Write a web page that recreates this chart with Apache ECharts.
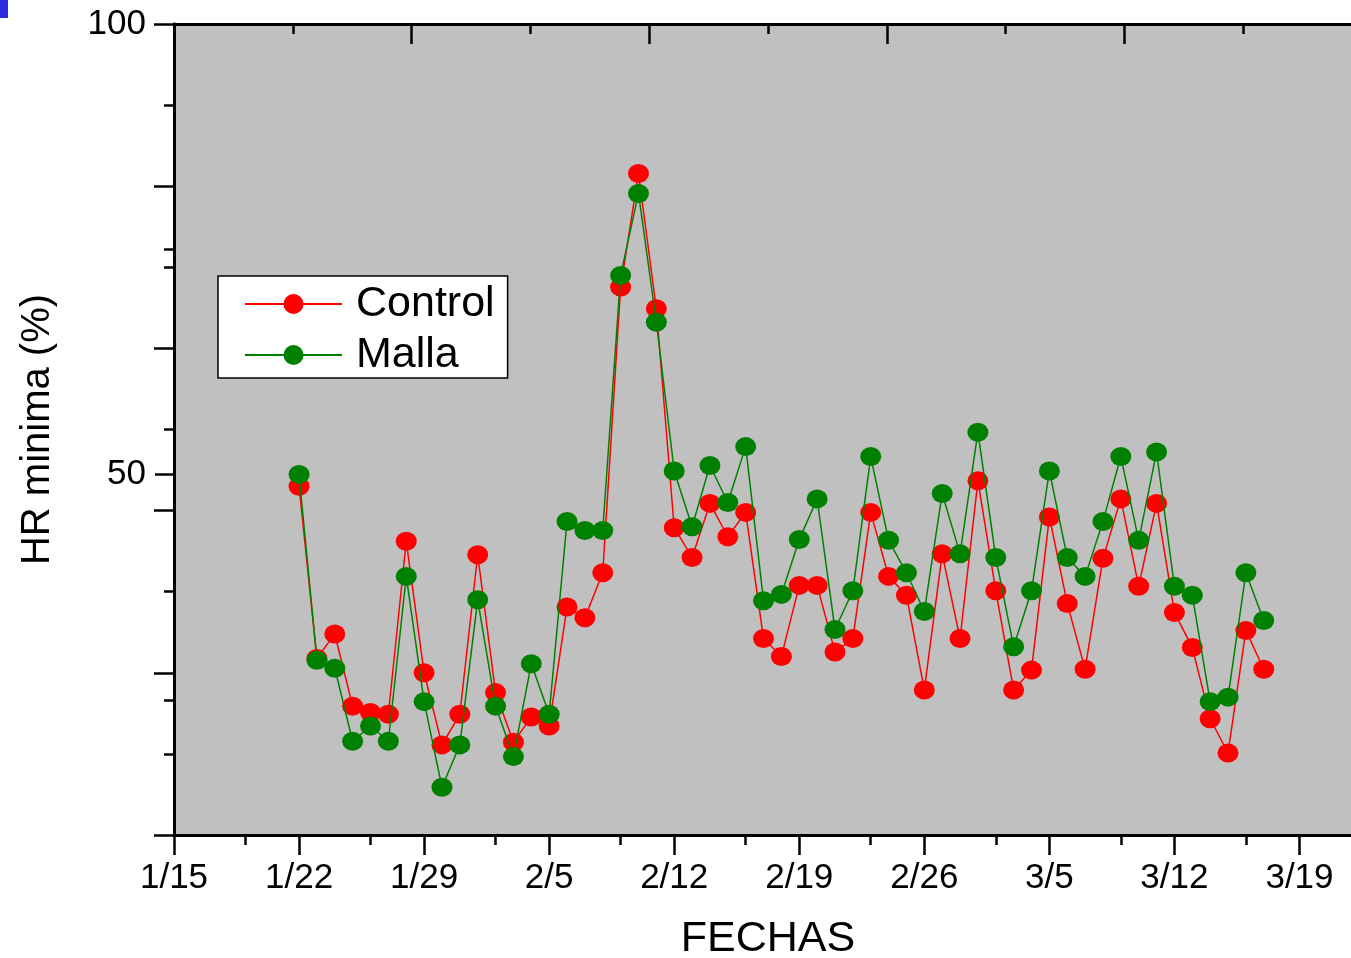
<!DOCTYPE html>
<html>
<head>
<meta charset="utf-8">
<script src="https://cdn.jsdelivr.net/npm/echarts@6/dist/echarts.min.js"></script>
<style>
  html, body { margin: 0; padding: 0; background: #ffffff; }
  #chart { width: 1351px; height: 958px; }
</style>
</head>
<body>
<div id="chart"></div>
<script>
// ---- data ----
const dates = [
  '1/22','1/23','1/24','1/25','1/26','1/27','1/28','1/29','1/30','1/31',
  '2/1','2/2','2/3','2/4','2/5','2/6','2/7','2/8','2/9','2/10','2/11','2/12','2/13','2/14',
  '2/15','2/16','2/17','2/18','2/19','2/20','2/21','2/22','2/23','2/24','2/25','2/26','2/27','2/28',
  '3/1','3/2','3/3','3/4','3/5','3/6','3/7','3/8','3/9','3/10','3/11','3/12','3/13','3/14','3/15','3/16','3/17'
];
const control = [
  48.7, 29.6, 32.3, 24.3, 23.6, 23.4, 42.6, 28.0, 20.0, 23.4,
  41.1, 25.8, 20.3, 23.1, 22.1, 35.3, 34.1, 39.1, 70.8, 83.4, 68.4, 44.1, 40.8, 46.8,
  43.1, 45.8, 31.8, 29.8, 37.7, 37.7, 30.3, 31.8, 45.8, 38.7, 36.6, 26.1, 41.2, 31.8,
  49.3, 37.1, 26.1, 28.3, 45.3, 35.7, 28.4, 40.7, 47.3, 37.6, 46.8, 34.7, 30.8, 22.9, 19.1, 32.7, 28.4
];
const malla = [
  50.0, 29.4, 28.5, 20.4, 22.1, 20.4, 38.7, 24.8, 15.3, 20.0,
  36.1, 24.3, 18.7, 29.0, 23.4, 44.8, 43.8, 43.8, 72.1, 81.2, 66.9, 50.4, 44.2, 51.0,
  46.9, 53.1, 36.0, 36.7, 42.8, 47.3, 32.8, 37.1, 52.0, 42.7, 39.1, 34.8, 47.9, 41.2,
  54.7, 40.8, 30.9, 37.1, 50.4, 40.8, 38.7, 44.8, 52.0, 42.7, 52.5, 37.6, 36.6, 24.8, 25.3, 39.1, 33.8
];
const xTickLabels = ['1/15','1/22','1/29','2/5','2/12','2/19','2/26','3/5','3/12','3/19'];
const yTickLabels = [100, 50];
const yMinorTicks = [25, 75];
const seriesNames = ['Control', 'Malla'];

// ---- helpers ----
const monthStart = {1: 0, 2: 31, 3: 59};
const origin = '1/15';
function dayOf(s) {
  const [m, d] = s.split('/').map(Number);
  const [m0, d0] = origin.split('/').map(Number);
  return (monthStart[m] + d) - (monthStart[m0] + d0);
}
const xMajor = xTickLabels.map(dayOf);
const xMinor = xMajor.map(v => v + 4).filter(v => v < 66.5);
const labelByDay = {};
xTickLabels.forEach(l => { labelByDay[dayOf(l)] = l; });

const FONT = 'Arial, "Liberation Sans", Helvetica, sans-serif';
const black = '#000000';

const chart = echarts.init(document.getElementById('chart'), null, {renderer: 'canvas'});
chart.setOption({
  animation: false,
  backgroundColor: '#ffffff',
  graphic: [{
    type: 'rect', left: 0, top: 0, shape: {width: 8, height: 18},
    style: {fill: '#2a2adf'}
  }],
  grid: {
    left: 174, top: 24, right: -11, bottom: 123,
    containLabel: false, outerBoundsMode: 'none',
    show: true, backgroundColor: '#c0c0c0', borderWidth: 0
  },
  legend: {
    left: 218, top: 276,
    orient: 'vertical',
    backgroundColor: '#ffffff',
    borderColor: black, borderWidth: 1.5,
    padding: [5, 13, 0, 26],
    itemWidth: 97, itemHeight: 25, itemGap: 5,
    textStyle: {fontFamily: FONT, fontSize: 43, color: black, lineHeight: 46, padding: [0, 0, 0, 9]},
    data: seriesNames
  },
  xAxis: [
    {
      type: 'value', position: 'bottom', min: 0, max: 66.5,
      axisLine: {show: true, lineStyle: {color: black, width: 3}},
      axisTick: {show: true, inside: false, length: 20, customValues: xMajor, lineStyle: {color: black, width: 2.5}},
      axisLabel: {
        show: true, customValues: xMajor, margin: 26,
        fontFamily: FONT, fontSize: 35, color: black,
        formatter: v => labelByDay[Math.round(v)] || ''
      },
      splitLine: {show: false},
      name: 'FECHAS', nameLocation: 'middle', nameGap: 83,
      nameTextStyle: {fontFamily: FONT, fontSize: 43, color: black}
    },
    {
      type: 'value', position: 'bottom', min: 0, max: 66.5,
      axisLine: {show: false},
      axisTick: {show: true, inside: false, length: 10, customValues: xMinor, lineStyle: {color: black, width: 2.5}},
      axisLabel: {show: false},
      splitLine: {show: false}
    },
    {
      type: 'value', position: 'top', min: 0, max: 5, interval: 1,
      axisLine: {show: true, lineStyle: {color: black, width: 3}},
      axisTick: {show: true, inside: true, length: 20, lineStyle: {color: black, width: 2.5}},
      minorTick: {show: true, splitNumber: 2, length: 10, lineStyle: {color: black, width: 2.5}},
      axisLabel: {show: false},
      splitLine: {show: false}
    }
  ],
  yAxis: [
    {
      type: 'value', position: 'left', min: 10, max: 100,
      axisLine: {show: true, lineStyle: {color: black, width: 3}},
      axisTick: {show: true, inside: false, length: 19, customValues: yTickLabels, lineStyle: {color: black, width: 2.5}},
      axisLabel: {show: true, customValues: yTickLabels, margin: 28, fontFamily: FONT, fontSize: 35, color: black},
      splitLine: {show: false},
      name: 'HR minima (%)', nameLocation: 'middle', nameRotate: 90, nameGap: 116,
      nameTextStyle: {fontFamily: FONT, fontSize: 40, color: black}
    },
    {
      type: 'value', position: 'left', min: 10, max: 100,
      axisLine: {show: false},
      axisTick: {show: true, inside: false, length: 10, customValues: yMinorTicks, lineStyle: {color: black, width: 2.5}},
      axisLabel: {show: false},
      splitLine: {show: false}
    },
    {
      type: 'value', position: 'right', min: 0, max: 5, interval: 1,
      axisLine: {show: true, lineStyle: {color: black, width: 3}},
      axisTick: {show: true, inside: true, length: 20, lineStyle: {color: black, width: 2.5}},
      minorTick: {show: true, splitNumber: 2, length: 10, lineStyle: {color: black, width: 2.5}},
      axisLabel: {show: false},
      splitLine: {show: false}
    }
  ],
  series: [
    {
      name: seriesNames[0], type: 'line', xAxisIndex: 0, yAxisIndex: 0,
      data: dates.map((d, i) => [dayOf(d), control[i]]),
      symbol: 'circle', symbolSize: [21, 19],
      itemStyle: {color: '#ff0000'},
      lineStyle: {color: '#ff0000', width: 1.5},
      z: 2
    },
    {
      name: seriesNames[1], type: 'line', xAxisIndex: 0, yAxisIndex: 0,
      data: dates.map((d, i) => [dayOf(d), malla[i]]),
      symbol: 'circle', symbolSize: [21, 19],
      itemStyle: {color: '#008000'},
      lineStyle: {color: '#008000', width: 1.5},
      z: 3
    }
  ]
});
</script>
</body>
</html>
